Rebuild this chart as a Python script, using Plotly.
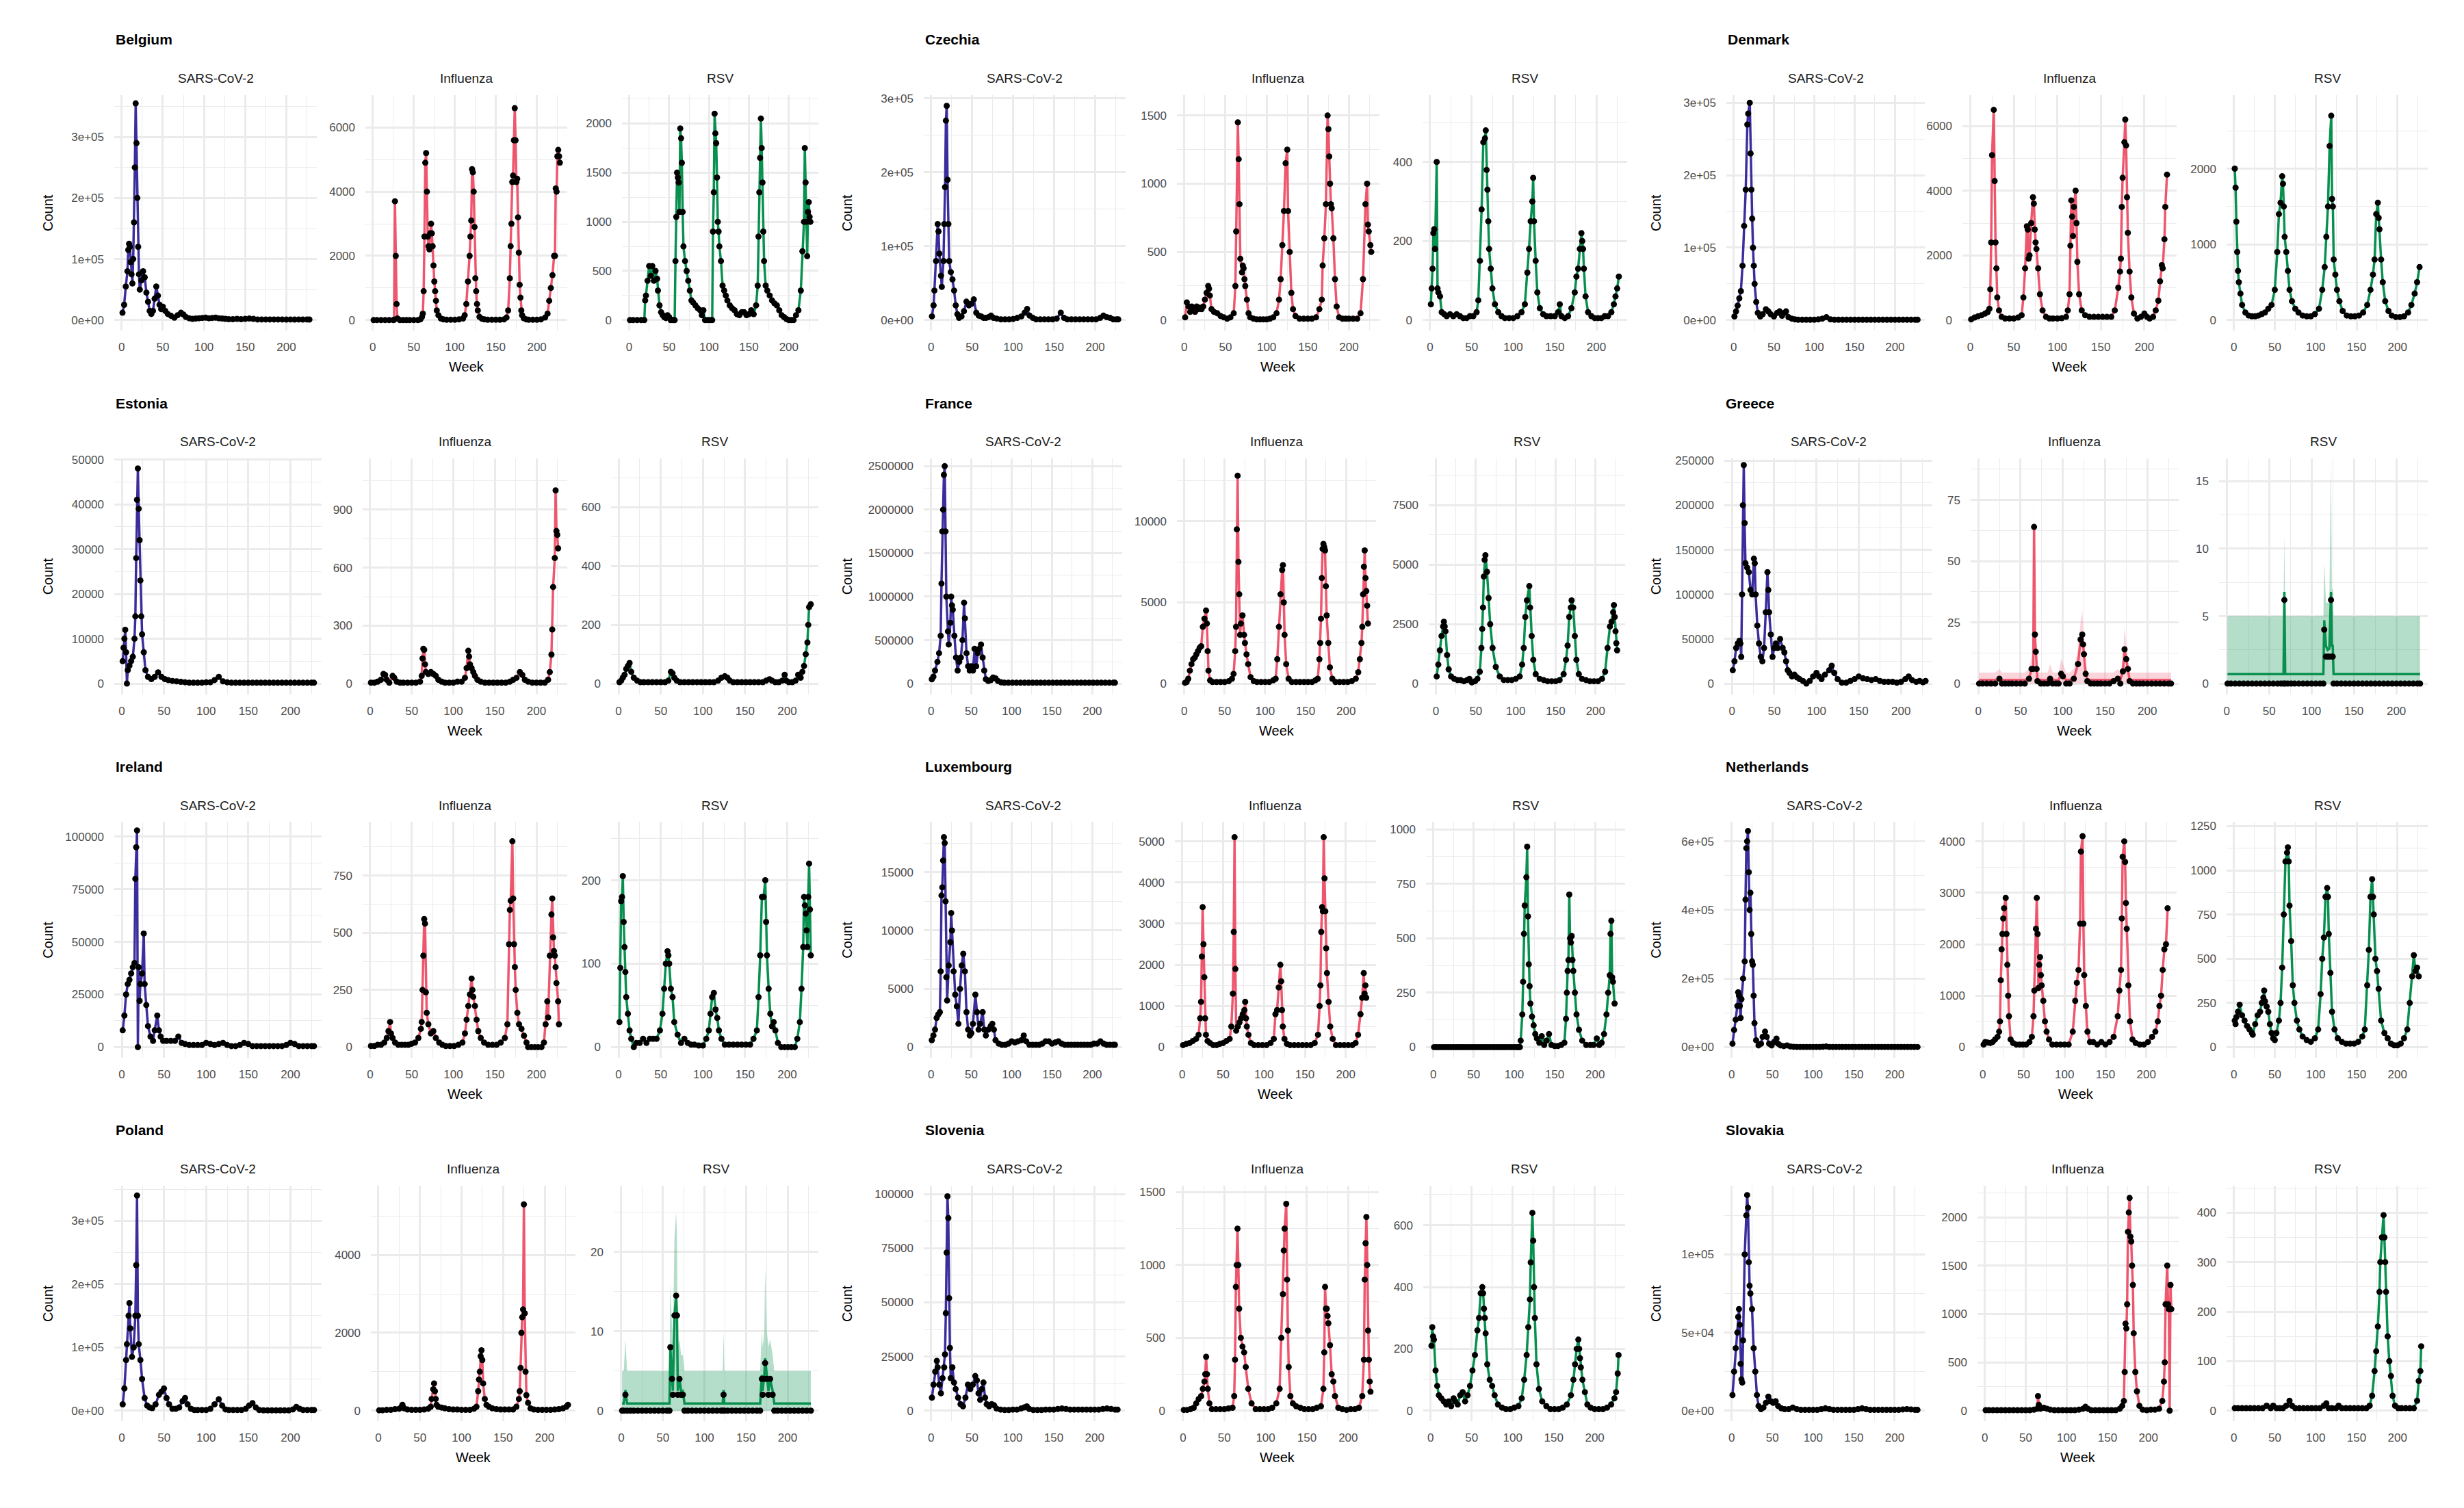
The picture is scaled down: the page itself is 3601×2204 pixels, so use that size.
import plotly.graph_objects as go

W_PX, H_PX = 3601, 2204

COUNTRIES = ["Belgium", "Czechia", "Denmark", "Estonia", "France", "Greece",
             "Ireland", "Luxembourg", "Netherlands", "Poland", "Slovenia", "Slovakia"]
PATHOGENS = ["SARS-CoV-2", "Influenza", "RSV"]
X_TICKS = [0, 50, 100, 150, 200]
X_MINOR = [25, 75, 125, 175, 225]

# ---------------- observed weekly counts: (week, count) ----------------
BE_SARS = [(1,12000),(3,25000),(5,55000),(7,80000),(8,115000),(9,125000),(10,120000),(11,95000),(12,75000),(13,60000),(14,100000),(15,160000),(16,250000),(17,355000),(18,290000),(19,200000),(20,120000),(21,75000),(22,50000),(24,65000),(26,80000),(28,70000),(30,45000),(32,30000),(34,15000),(36,10000),(38,15000),(40,35000),(42,55000),(44,40000),(46,25000),(48,18000),(50,22000),(53,15000),(56,10000),(60,7000),(64,4000),(68,8000),(72,12000),(75,9000),(78,5000),(82,3000),(86,2000),(90,2500),(94,3000),(98,3500),(102,4000),(106,3000),(110,3500),(114,4000),(118,3000),(122,2500),(126,2000),(130,1500),(135,1500),(140,2000),(145,1500),(150,2000),(155,2500),(160,2000),(165,1000),(170,1000),(175,1000),(180,1000),(185,1000),(190,1000),(195,1000),(200,800),(205,1000),(210,800),(215,1000),(220,800),(225,1000),(228,900)]
BE_FLU = [(1,0),(5,0),(10,0),(15,0),(20,0),(25,0),(26,10),(27,3700),(28,2000),(29,500),(30,50),(33,0),(37,0),(41,0),(45,0),(50,0),(55,0),(58,20),(60,100),(61,200),(62,900),(63,2600),(64,4900),(65,5200),(66,4000),(67,2600),(68,2300),(69,2200),(70,2700),(71,3000),(72,2700),(73,2300),(74,1700),(75,1200),(76,900),(77,600),(78,300),(80,150),(83,50),(86,20),(90,10),(95,10),(100,10),(105,20),(110,50),(112,150),(114,500),(116,1200),(118,2000),(119,2600),(120,3100),(121,4700),(122,4600),(123,4000),(124,2900),(125,1300),(126,900),(127,500),(128,300),(130,100),(133,40),(136,20),(140,10),(145,10),(150,10),(155,10),(160,20),(163,80),(165,300),(167,1300),(168,2300),(169,3000),(170,4300),(171,4500),(172,5600),(173,6600),(174,5600),(175,4300),(176,4400),(177,3200),(178,2100),(179,1100),(180,700),(181,300),(182,150),(184,60),(187,20),(190,10),(195,10),(200,10),(205,20),(210,80),(213,200),(215,600),(217,1000),(219,1400),(221,2000),(222,2000),(223,4100),(224,4000),(225,5100),(226,5300),(227,5100),(228,4900)]
BE_RSV = [(1,0),(5,0),(10,0),(15,0),(19,0),(20,200),(21,250),(23,400),(25,550),(27,450),(29,550),(31,400),(33,500),(35,420),(36,300),(38,150),(40,80),(42,50),(44,30),(46,20),(48,50),(50,30),(52,0),(55,0),(57,0),(58,600),(59,1050),(60,1500),(61,1450),(62,1400),(63,1100),(64,1950),(65,1850),(66,1600),(67,1100),(68,750),(70,600),(72,500),(74,400),(76,300),(78,200),(80,180),(83,150),(86,120),(89,100),(91,50),(93,100),(95,0),(98,0),(101,0),(104,0),(105,900),(106,1300),(107,2100),(108,1900),(109,1800),(110,1450),(111,1000),(112,900),(113,750),(115,600),(117,350),(119,300),(121,250),(123,200),(126,150),(129,120),(132,100),(135,60),(138,50),(141,80),(144,80),(147,50),(150,60),(153,100),(156,60),(159,150),(161,350),(162,850),(163,1300),(164,1650),(165,2050),(166,1750),(167,1400),(168,900),(169,600),(171,350),(173,300),(176,250),(179,200),(182,170),(185,150),(188,100),(191,50),(194,30),(197,10),(200,0),(203,0),(206,0),(209,50),(212,100),(215,300),(217,700),(219,1000),(220,1750),(221,1400),(222,1000),(223,650),(224,1100),(225,1200),(226,1050),(227,1000)]

CZ_SARS = [(1,5000),(3,20000),(4,40000),(6,80000),(8,130000),(9,120000),(10,90000),(12,60000),(13,45000),(15,80000),(16,130000),(17,180000),(18,270000),(19,290000),(20,190000),(21,130000),(22,80000),(24,65000),(26,55000),(28,40000),(30,20000),(32,8000),(34,3000),(37,5000),(40,12000),(43,25000),(46,20000),(49,22000),(52,28000),(55,10000),(58,6000),(61,5000),(64,3000),(67,3000),(70,4000),(73,6000),(76,3000),(80,2000),(85,1000),(90,1000),(95,1000),(100,1500),(105,3000),(110,5000),(114,10000),(117,15000),(120,6000),(124,3000),(128,1000),(133,1000),(138,1000),(143,1000),(148,1000),(153,2000),(158,10000),(162,3000),(166,1000),(171,1000),(176,1000),(181,1000),(186,1000),(191,1000),(196,1000),(201,1000),(206,3000),(210,6000),(214,4000),(218,3000),(222,1000),(226,1000),(228,1000)]
CZ_FLU = [(1,20),(3,130),(5,100),(7,60),(9,100),(11,70),(13,60),(15,100),(17,80),(19,90),(21,80),(23,100),(25,150),(27,200),(29,250),(30,230),(31,180),(33,80),(36,60),(40,50),(44,30),(48,20),(52,10),(56,20),(60,50),(62,250),(63,650),(65,1450),(66,1180),(67,850),(68,450),(70,350),(71,400),(72,380),(73,300),(74,250),(76,150),(78,50),(80,20),(84,10),(88,5),(92,5),(96,5),(100,5),(104,10),(108,20),(112,50),(115,150),(117,300),(119,550),(121,800),(123,1150),(125,1250),(126,800),(128,500),(130,200),(132,80),(135,30),(140,10),(145,10),(150,10),(155,10),(160,20),(164,80),(167,150),(168,400),(170,600),(172,850),(174,1500),(175,1400),(176,1200),(177,1000),(178,850),(179,820),(181,600),(183,300),(185,100),(188,20),(192,10),(196,10),(200,10),(205,10),(210,10),(214,50),(217,300),(220,850),(222,1000),(223,700),(224,650),(226,550),(227,500)]
CZ_RSV = [(1,40),(2,80),(3,130),(4,220),(5,230),(6,180),(8,400),(9,80),(10,70),(12,60),(14,20),(17,15),(20,10),(24,15),(28,10),(32,15),(36,10),(40,5),(44,5),(48,10),(52,10),(56,20),(58,50),(60,150),(62,280),(64,450),(66,460),(67,480),(68,380),(69,330),(70,250),(71,180),(73,130),(75,80),(78,40),(82,20),(86,10),(90,5),(95,5),(100,5),(105,10),(110,20),(114,40),(117,120),(119,180),(121,250),(123,300),(124,360),(125,250),(127,150),(129,70),(132,30),(136,15),(140,10),(145,10),(150,10),(154,20),(156,40),(158,10),(162,5),(166,10),(170,30),(174,70),(176,110),(178,130),(180,180),(182,220),(183,200),(184,180),(185,130),(187,60),(190,20),(194,10),(198,5),(202,5),(206,5),(210,10),(214,10),(218,20),(221,40),(223,60),(225,80),(227,110)]

DK_SARS = [(1,5000),(3,12000),(5,20000),(7,30000),(9,40000),(11,75000),(13,130000),(15,180000),(17,270000),(18,285000),(20,300000),(21,230000),(22,180000),(23,140000),(24,100000),(25,75000),(26,50000),(28,25000),(30,10000),(33,5000),(36,8000),(40,15000),(43,12000),(46,8000),(50,5000),(54,10000),(57,12000),(60,6000),(63,10000),(65,12000),(68,4000),(72,2000),(76,1000),(80,500),(85,500),(90,500),(95,500),(100,500),(105,1000),(110,2000),(115,4000),(120,1000),(125,500),(130,500),(135,500),(140,500),(145,500),(150,500),(155,500),(160,500),(165,500),(170,500),(175,500),(180,500),(185,500),(190,500),(195,500),(200,500),(205,500),(210,500),(215,500),(220,500),(225,500),(228,500)]
DK_FLU = [(1,20),(5,80),(9,120),(13,150),(17,200),(20,250),(22,350),(23,950),(24,2400),(25,5100),(27,6500),(28,4300),(29,2400),(30,1600),(31,700),(33,300),(36,100),(40,50),(45,50),(50,50),(55,80),(59,150),(61,700),(63,1600),(65,2900),(66,2800),(67,1900),(68,2000),(70,3000),(72,3800),(73,3600),(74,2800),(75,2400),(76,2200),(78,1600),(80,800),(83,300),(87,100),(91,50),(95,50),(100,50),(105,60),(110,100),(112,300),(114,800),(115,2300),(116,3700),(117,3200),(118,2600),(119,3500),(121,4000),(122,3000),(123,1800),(125,800),(128,300),(132,150),(137,100),(142,100),(147,100),(152,100),(157,100),(162,100),(166,300),(170,1000),(172,1500),(173,1900),(174,3500),(175,4400),(177,5500),(178,6200),(179,5400),(180,3800),(181,2700),(183,1500),(185,700),(188,200),(192,50),(196,100),(200,200),(203,100),(206,50),(210,100),(213,300),(216,600),(218,1200),(220,1700),(221,1600),(223,2500),(224,3500),(226,4500)]
DK_RSV = [(1,2000),(2,1750),(3,1300),(4,900),(5,650),(6,500),(8,350),(10,200),(14,100),(18,60),(22,50),(26,50),(30,60),(34,80),(38,100),(42,150),(46,200),(50,400),(53,900),(55,1400),(57,1550),(59,1900),(60,1800),(61,1500),(62,1100),(64,900),(66,650),(68,400),(71,250),(75,150),(79,100),(84,60),(89,50),(94,50),(99,80),(104,150),(108,400),(111,700),(113,1100),(115,1500),(117,2300),(119,2700),(120,1600),(121,1500),(122,800),(124,600),(126,400),(129,250),(133,120),(138,60),(143,50),(148,50),(153,60),(158,100),(163,200),(167,400),(170,600),(172,800),(174,1400),(176,1550),(177,1350),(178,1200),(180,800),(182,500),(185,250),(189,120),(193,60),(198,40),(203,40),(208,50),(213,100),(217,200),(221,350),(224,500),(227,700)]

EE_SARS = [(1,5000),(2,8000),(3,10000),(4,12000),(5,7000),(6,0),(7,3000),(9,4000),(11,5000),(13,6000),(15,10000),(16,15000),(17,28000),(18,41000),(19,48000),(20,39000),(21,32000),(22,23000),(23,15000),(24,11000),(26,7000),(28,3000),(31,1500),(35,1000),(39,1500),(43,2500),(47,1500),(51,1000),(55,800),(60,600),(65,500),(70,400),(75,300),(80,200),(85,200),(90,200),(95,200),(100,300),(105,300),(110,800),(115,1500),(120,500),(125,300),(130,200),(135,200),(140,200),(145,200),(150,200),(155,200),(160,200),(165,200),(170,200),(175,200),(180,200),(185,200),(190,200),(195,200),(200,200),(205,200),(210,200),(215,200),(220,200),(225,200),(228,200)]
EE_FLU = [(1,5),(5,5),(9,10),(13,20),(16,50),(18,45),(20,20),(23,5),(27,40),(29,30),(32,10),(36,5),(40,5),(45,5),(50,5),(55,5),(60,10),(62,40),(63,130),(64,180),(65,175),(66,100),(67,60),(70,50),(73,60),(76,50),(79,40),(82,20),(86,10),(90,5),(95,5),(100,5),(105,10),(110,10),(114,30),(116,80),(118,170),(119,140),(120,100),(122,80),(124,60),(126,40),(129,20),(133,10),(138,5),(143,5),(148,5),(153,5),(158,5),(163,5),(168,10),(172,20),(176,30),(180,60),(183,45),(186,20),(190,10),(195,5),(200,5),(205,5),(210,5),(214,20),(216,60),(218,150),(219,280),(220,500),(222,650),(223,1000),(224,790),(225,770),(226,700)]
EE_RSV = [(1,5),(3,10),(5,20),(7,30),(9,50),(11,60),(13,70),(15,40),(18,20),(22,10),(26,5),(30,5),(35,5),(40,5),(45,5),(50,5),(55,5),(59,10),(62,40),(64,35),(66,20),(69,10),(73,5),(78,5),(83,5),(88,5),(93,5),(98,5),(103,5),(108,5),(113,5),(118,10),(122,20),(126,25),(129,20),(132,10),(136,5),(141,5),(146,5),(151,5),(156,5),(161,5),(166,5),(171,5),(175,10),(179,15),(182,10),(186,5),(190,5),(194,10),(197,30),(199,10),(202,5),(206,5),(210,10),(213,30),(216,20),(218,40),(220,60),(222,100),(224,140),(225,200),(226,260),(228,270)]

FR_SARS = [(1,50000),(3,80000),(5,150000),(8,250000),(10,350000),(12,550000),(13,1150000),(14,1750000),(15,2000000),(16,2400000),(17,2500000),(18,1750000),(19,1000000),(21,600000),(22,450000),(24,700000),(25,1000000),(26,900000),(27,850000),(29,550000),(31,300000),(33,150000),(35,250000),(37,300000),(39,500000),(41,930000),(42,750000),(44,350000),(46,200000),(48,150000),(50,200000),(52,150000),(54,400000),(56,200000),(58,350000),(60,400000),(62,450000),(64,300000),(66,150000),(68,50000),(71,30000),(74,40000),(77,70000),(80,60000),(83,30000),(87,15000),(91,10000),(96,10000),(101,10000),(106,10000),(111,10000),(116,10000),(121,10000),(126,10000),(131,10000),(136,10000),(141,10000),(146,10000),(151,10000),(156,10000),(161,10000),(166,10000),(171,10000),(176,10000),(181,10000),(186,10000),(191,10000),(196,10000),(201,10000),(206,10000),(211,10000),(216,10000),(221,10000),(226,10000),(228,10000)]
FR_FLU = [(1,50),(3,100),(5,300),(7,800),(9,1200),(11,1500),(13,1600),(15,1800),(17,2000),(19,2200),(21,2300),(23,3500),(25,4000),(27,4500),(28,3700),(29,2000),(30,800),(32,200),(35,100),(40,100),(45,100),(50,100),(55,150),(59,300),(61,600),(63,2000),(64,3500),(65,9500),(66,12800),(67,7500),(68,5500),(69,3000),(70,3700),(72,4200),(74,3000),(75,2500),(77,1800),(79,1200),(82,400),(86,150),(90,100),(95,100),(100,100),(105,100),(110,200),(113,300),(115,1500),(117,3500),(119,5500),(121,7000),(122,7300),(123,5000),(124,3000),(126,1200),(129,300),(133,100),(138,100),(143,100),(148,100),(153,100),(158,100),(162,200),(165,300),(167,1500),(168,2500),(169,4000),(170,6500),(171,8300),(172,8600),(173,8400),(174,8200),(175,6000),(176,4200),(178,2500),(180,1000),(183,300),(187,100),(192,100),(197,100),(202,100),(207,150),(212,300),(215,700),(217,1500),(219,2500),(220,3500),(221,5500),(222,7200),(223,8200),(224,6500),(225,5700),(226,4800),(227,3700)]
FR_RSV = [(1,300),(3,800),(5,1400),(7,2000),(9,2400),(10,2600),(11,2400),(12,2200),(14,1200),(16,600),(19,300),(23,200),(27,150),(31,150),(35,100),(39,150),(42,200),(45,50),(49,100),(52,200),(55,500),(57,1500),(58,2300),(59,3200),(60,4500),(61,5200),(62,5400),(64,4700),(66,3600),(68,2500),(71,1500),(75,700),(80,300),(85,150),(90,150),(95,150),(100,200),(105,300),(108,800),(110,1500),(112,2800),(114,3500),(117,4100),(118,3200),(120,2000),(122,1000),(125,400),(130,200),(135,150),(140,100),(145,100),(150,100),(155,150),(160,400),(163,1000),(165,1600),(167,2800),(169,3200),(170,3500),(172,3200),(174,2000),(176,1000),(179,400),(183,200),(188,150),(193,100),(198,100),(203,100),(208,200),(212,500),(215,1500),(218,2400),(220,2600),(222,3000),(223,3300),(224,2800),(225,2200),(226,1700),(227,1400)]

GR_SARS = [(1,15000),(3,25000),(5,40000),(7,45000),(9,48000),(10,45000),(11,30000),(12,100000),(13,200000),(14,245000),(15,180000),(16,135000),(18,130000),(20,125000),(22,105000),(24,100000),(26,140000),(27,135000),(28,100000),(30,65000),(32,45000),(34,30000),(36,25000),(38,40000),(40,80000),(42,125000),(43,105000),(44,80000),(46,55000),(48,30000),(50,40000),(52,45000),(54,40000),(57,50000),(60,40000),(62,35000),(64,25000),(66,15000),(68,12000),(71,8000),(74,10000),(77,7000),(80,5000),(84,3000),(88,0),(92,3000),(96,8000),(100,12000),(103,8000),(106,5000),(110,10000),(115,15000),(118,20000),(121,12000),(125,5000),(130,1000),(135,1000),(140,3000),(145,5000),(150,8000),(155,6000),(160,5000),(165,4000),(170,5000),(175,3000),(180,2000),(185,2000),(190,2000),(195,1000),(200,2000),(205,5000),(209,8000),(213,4000),(218,2000),(222,3000),(226,1500),(229,3000)]
# model panels: (week, observed, fitted mean, upper band)
GR_FLU = [(1,0,1.5,4.5),(5,0,1.5,4.5),(10,0,1.5,4.5),(15,0,1.5,4.5),(20,0,1.5,4.5),(25,2,2,6),(28,0,1.5,4.5),(32,0,1.5,4.5),(36,0,1.5,4.5),(40,0,1.5,4.5),(45,0,1.5,4.5),(50,0,1.5,4.5),(55,0,1.5,4.5),(60,2,2,6),(63,6,6,11),(65,6,6,11),(66,64,64,75),(67,20,20,27),(68,13,13,19),(69,6,6,11),(70,1,1.5,4.5),(74,0,1.5,4.5),(78,0,1.5,4.5),(82,0,1.5,4.5),(85,2,2,8),(88,0,1.5,4.5),(92,0,1.5,4.5),(95,0,1.5,4.5),(98,4,4,10),(100,3,3,8),(104,0,1.5,4.5),(108,0,1.5,4.5),(113,2,2,6),(118,8,8,14),(121,18,18,25),(123,20,20,30),(124,16,16,22),(125,12,12,18),(127,4,4,9),(129,1,1.5,4.5),(133,0,1.5,4.5),(137,0,1.5,4.5),(141,0,1.5,4.5),(145,0,1.5,4.5),(150,0,1.5,4.5),(155,0,1.5,4.5),(160,1,1.5,4.5),(165,2,2,6),(168,0,1.5,4.5),(171,5,5,10),(173,14,14,23),(175,10,10,16),(177,6,6,11),(179,1,1.5,4.5),(183,0,1.5,4.5),(187,0,1.5,4.5),(191,0,1.5,4.5),(195,0,1.5,4.5),(200,0,1.5,4.5),(205,0,1.5,4.5),(210,0,1.5,4.5),(215,0,1.5,4.5),(220,0,1.5,4.5),(225,0,1.5,4.5),(228,0,1.5,4.5)]
GR_RSV = [(1,0,0.7,5),(5,0,0.7,5),(10,0,0.7,5),(15,0,0.7,5),(20,0,0.7,5),(25,0,0.7,5),(30,0,0.7,5),(35,0,0.7,5),(40,0,0.7,5),(45,0,0.7,5),(50,0,0.7,5),(55,0,0.7,5),(60,0,0.7,5),(64,0,0.7,5),(67,0,0.7,5),(68,6.2,6.8,11),(69,0,0.7,5),(72,0,0.7,5),(76,0,0.7,5),(80,0,0.7,5),(85,0,0.7,5),(90,0,0.7,5),(95,0,0.7,5),(100,0,0.7,5),(105,0,0.7,5),(110,0,0.7,5),(114,0,0.7,5),(115,4,4.7,9),(117,2,2.8,6),(119,2,2.5,6),(121,2,2.6,6),(123,6.2,6.8,16.5),(124,2,2.8,7),(125,2,2.8,7),(126,0,0.7,5),(130,0,0.7,5),(135,0,0.7,5),(140,0,0.7,5),(145,0,0.7,5),(150,0,0.7,5),(155,0,0.7,5),(160,0,0.7,5),(165,0,0.7,5),(170,0,0.7,5),(175,0,0.7,5),(180,0,0.7,5),(185,0,0.7,5),(190,0,0.7,5),(195,0,0.7,5),(200,0,0.7,5),(205,0,0.7,5),(210,0,0.7,5),(215,0,0.7,5),(220,0,0.7,5),(225,0,0.7,5),(228,0,0.7,5)]

IE_SARS = [(1,8000),(3,15000),(5,25000),(7,30000),(9,32000),(11,35000),(13,38000),(15,40000),(16,80000),(17,95000),(18,103000),(19,0),(20,38000),(21,22000),(22,30000),(24,35000),(26,54000),(27,30000),(29,20000),(31,10000),(34,5000),(37,3000),(39,8000),(42,15000),(44,8000),(46,5000),(49,3000),(53,3000),(58,3000),(63,3000),(67,5000),(71,2000),(75,1500),(80,1000),(85,1000),(90,1000),(95,1000),(100,2000),(105,1500),(110,1000),(115,1500),(120,2000),(125,1000),(130,500),(135,500),(140,1000),(145,2000),(150,1500),(155,500),(160,500),(165,500),(170,500),(175,500),(180,500),(185,500),(190,500),(195,1000),(200,2000),(205,1500),(210,500),(215,500),(220,500),(225,500),(228,500)]
IE_FLU = [(1,5),(5,5),(9,10),(13,10),(17,20),(20,40),(22,70),(24,110),(25,60),(27,40),(30,20),(34,10),(38,10),(42,10),(46,10),(50,15),(54,20),(58,40),(61,80),(62,110),(63,250),(64,400),(65,560),(66,540),(67,240),(68,150),(70,100),(73,60),(76,70),(79,40),(83,20),(87,10),(91,5),(96,5),(101,5),(106,10),(111,20),(114,60),(116,120),(118,180),(120,230),(122,300),(123,250),(124,220),(126,180),(128,120),(130,70),(133,40),(137,20),(142,10),(147,10),(152,10),(157,20),(162,40),(165,100),(167,450),(168,600),(169,640),(171,900),(172,650),(173,450),(174,350),(175,250),(177,150),(179,100),(182,80),(185,50),(188,20),(190,0),(194,0),(198,0),(202,0),(206,0),(209,20),(211,100),(213,200),(214,130),(216,400),(218,580),(219,650),(220,480),(221,420),(222,400),(223,350),(224,280),(226,200),(227,100)]
IE_RSV = [(1,30),(2,95),(3,175),(4,180),(5,205),(6,150),(7,120),(8,90),(9,60),(11,40),(13,20),(15,10),(18,0),(21,5),(25,5),(29,10),(33,5),(37,10),(41,10),(45,10),(49,20),(52,40),(54,70),(56,100),(58,115),(59,110),(60,100),(62,70),(64,60),(66,30),(70,15),(74,5),(78,10),(82,5),(86,3),(90,3),(95,2),(100,2),(104,10),(107,20),(109,40),(111,60),(113,65),(115,45),(117,35),(119,20),(122,10),(126,3),(131,3),(136,3),(141,3),(146,3),(151,3),(156,3),(160,10),(164,20),(166,60),(168,110),(170,180),(172,180),(174,200),(175,150),(176,110),(178,70),(180,40),(182,25),(184,30),(186,20),(189,5),(193,0),(197,0),(201,0),(205,0),(209,0),(212,10),(215,30),(217,70),(219,120),(220,180),(221,170),(222,160),(223,140),(224,120),(225,180),(226,220),(227,165),(228,110)]

LU_SARS = [(1,600),(3,1000),(5,1500),(7,2500),(9,2800),(11,3000),(12,6500),(13,13000),(14,13700),(15,16000),(16,18000),(17,17500),(18,12500),(19,6000),(20,4000),(22,7000),(24,9000),(25,11500),(26,10000),(28,6500),(30,4500),(32,3500),(34,2000),(36,5000),(38,7000),(40,8000),(42,6500),(44,3000),(46,1500),(48,1000),(50,1200),(52,2000),(55,4500),(57,3000),(59,1500),(61,2000),(64,3000),(66,1500),(68,1000),(71,1500),(74,1800),(76,2000),(78,1500),(80,600),(84,300),(88,200),(92,200),(96,300),(100,500),(104,400),(108,500),(112,600),(115,1000),(118,500),(122,200),(126,200),(130,200),(134,200),(138,300),(142,500),(146,500),(150,300),(154,400),(158,500),(162,300),(166,200),(170,200),(174,200),(178,200),(182,200),(186,200),(190,200),(194,200),(198,200),(202,300),(206,300),(210,500),(214,300),(218,200),(222,200),(226,200),(228,200)]
LU_FLU = [(1,50),(5,80),(9,100),(13,150),(17,200),(20,300),(22,700),(23,1100),(24,2200),(25,3400),(26,2500),(27,1700),(28,700),(29,300),(31,150),(34,100),(38,50),(42,50),(46,80),(50,100),(54,150),(58,200),(60,500),(62,1300),(63,2800),(64,5100),(65,1900),(66,400),(68,500),(70,600),(72,700),(74,800),(76,900),(77,1100),(78,700),(79,500),(81,300),(84,100),(88,50),(93,50),(98,50),(103,50),(108,100),(112,200),(114,800),(116,900),(118,1450),(120,2000),(121,1600),(122,900),(123,500),(125,200),(128,80),(132,50),(137,50),(142,50),(147,50),(152,50),(157,50),(162,100),(166,300),(168,1000),(169,1500),(170,2800),(171,3400),(172,3300),(173,5100),(174,4100),(175,3300),(176,2400),(177,1800),(179,1100),(181,500),(184,200),(188,50),(193,50),(198,50),(203,50),(208,50),(212,100),(215,300),(218,800),(220,1200),(222,1800),(223,1300),(224,1500),(225,1200)]
LU_RSV = [(1,0),(4,0),(7,0),(10,0),(13,0),(16,0),(19,0),(22,0),(25,0),(28,0),(31,0),(34,0),(37,0),(40,0),(43,0),(46,0),(49,0),(52,0),(55,0),(58,0),(61,0),(64,0),(67,0),(70,0),(73,0),(76,0),(79,0),(82,0),(85,0),(88,0),(91,0),(94,0),(97,0),(100,0),(103,0),(105,0),(107,0),(108,30),(110,150),(111,300),(112,520),(113,650),(115,780),(116,920),(117,600),(118,380),(119,280),(120,200),(122,140),(124,100),(126,60),(128,40),(131,20),(134,50),(137,10),(140,30),(143,60),(146,10),(150,5),(154,5),(158,10),(162,20),(164,130),(165,250),(166,350),(167,400),(168,700),(169,500),(170,480),(171,510),(172,400),(173,350),(175,250),(177,150),(180,80),(184,30),(189,10),(194,10),(198,10),(202,40),(205,10),(208,20),(211,60),(214,150),(216,250),(218,330),(219,520),(220,580),(221,320),(222,300),(224,200)]

NL_SARS = [(1,10000),(3,50000),(5,80000),(7,120000),(8,160000),(9,150000),(10,120000),(11,85000),(12,140000),(14,200000),(16,250000),(17,430000),(18,580000),(19,600000),(20,630000),(21,510000),(22,400000),(23,450000),(24,330000),(25,250000),(26,240000),(27,150000),(28,70000),(30,20000),(33,5000),(36,10000),(38,30000),(41,45000),(43,30000),(46,10000),(49,5000),(52,15000),(55,25000),(57,10000),(60,5000),(64,3000),(68,5000),(72,2000),(76,1000),(80,500),(84,500),(88,500),(92,500),(96,500),(100,500),(104,500),(108,500),(112,1000),(116,2000),(120,500),(124,500),(128,500),(132,500),(136,500),(140,500),(144,500),(148,500),(152,500),(156,500),(160,500),(164,500),(168,500),(172,500),(176,500),(180,500),(184,500),(188,500),(192,500),(196,500),(200,500),(204,500),(208,500),(212,500),(216,500),(220,500),(224,500),(228,500)]
NL_FLU = [(1,50),(3,100),(6,90),(9,80),(12,100),(15,150),(18,200),(20,300),(21,500),(22,1300),(23,1900),(24,2200),(25,2500),(26,2700),(28,2900),(29,2200),(30,1600),(31,1000),(32,600),(34,150),(37,80),(41,50),(45,50),(49,50),(53,50),(57,100),(60,200),(62,600),(63,1100),(65,2300),(66,2900),(67,2200),(68,1150),(69,1600),(70,1750),(71,1400),(72,1200),(74,900),(76,500),(78,300),(81,150),(85,50),(90,50),(95,50),(100,50),(105,50),(110,300),(113,900),(115,1250),(117,1500),(119,2400),(120,3800),(122,4100),(123,2400),(124,1400),(126,800),(128,300),(131,100),(135,100),(140,50),(145,100),(150,50),(155,100),(160,200),(165,600),(167,1100),(169,1500),(170,2500),(171,3700),(173,4000),(174,3600),(175,2800),(176,2300),(178,1200),(180,500),(183,150),(187,80),(192,50),(197,50),(202,100),(207,200),(211,300),(214,500),(216,800),(218,1000),(220,1500),(222,1900),(224,2000),(226,2700)]
NL_RSV = [(1,150),(2,130),(3,170),(5,200),(7,240),(10,180),(13,150),(16,120),(19,100),(22,80),(23,70),(26,130),(29,180),(32,200),(34,250),(36,280),(37,320),(38,260),(40,230),(42,200),(44,130),(46,80),(48,50),(50,40),(52,80),(55,150),(57,250),(59,450),(61,750),(63,1050),(65,1100),(66,1130),(67,1050),(68,800),(70,600),(72,350),(74,250),(77,150),(80,100),(84,60),(89,40),(94,30),(99,50),(103,100),(106,300),(108,500),(110,620),(112,850),(114,900),(115,850),(116,640),(118,420),(120,200),(123,100),(127,50),(132,30),(137,20),(142,20),(147,20),(152,30),(157,60),(160,100),(163,350),(165,550),(167,850),(169,950),(170,850),(171,750),(173,500),(175,430),(177,330),(180,150),(184,80),(188,50),(192,20),(196,10),(200,10),(204,20),(208,50),(212,100),(215,250),(218,400),(220,520),(222,430),(224,450),(226,400)]

PL_SARS = [(1,10000),(3,35000),(5,80000),(6,105000),(8,150000),(9,170000),(10,130000),(12,85000),(14,100000),(16,150000),(17,230000),(18,340000),(19,150000),(20,105000),(22,80000),(24,50000),(27,20000),(30,8000),(33,5000),(36,4000),(40,10000),(44,25000),(47,30000),(50,35000),(53,20000),(56,10000),(60,3000),(64,3000),(68,5000),(72,15000),(75,20000),(78,10000),(82,3000),(86,1000),(90,1000),(95,1000),(100,1000),(105,3000),(110,10000),(115,18000),(119,8000),(123,2000),(127,1000),(132,1000),(137,1000),(142,1000),(147,3000),(151,8000),(155,12000),(159,5000),(163,1000),(168,500),(173,500),(178,500),(183,500),(188,500),(193,500),(198,500),(203,2000),(207,6000),(211,3000),(215,1000),(220,1000),(225,1000),(228,1000)]
PL_FLU = [(1,10),(5,10),(10,20),(15,20),(20,40),(25,50),(28,100),(29,150),(31,60),(35,30),(40,20),(45,20),(50,20),(55,30),(60,50),(63,100),(64,300),(66,550),(67,700),(68,500),(69,300),(70,150),(72,100),(76,80),(80,60),(85,40),(90,30),(95,30),(100,20),(105,20),(110,20),(115,50),(118,100),(120,500),(121,800),(122,1000),(123,1400),(124,1550),(125,1300),(126,700),(128,300),(130,150),(133,100),(137,60),(142,40),(147,30),(152,30),(157,30),(162,30),(166,100),(169,300),(170,500),(171,1100),(172,2000),(173,2400),(174,2600),(175,5300),(176,2500),(177,1000),(178,400),(180,200),(183,60),(187,30),(192,20),(197,20),(202,20),(207,20),(212,30),(217,40),(222,60),(226,100),(228,150)]
PL_RSV = [(1,0,0.9,5),(3,0,0.9,5),(5,2,2.6,9),(7,0,0.9,5),(11,0,0.9,5),(15,0,0.9,5),(20,0,0.9,5),(25,0,0.9,5),(30,0,0.9,5),(35,0,0.9,5),(40,0,0.9,5),(45,0,0.9,5),(50,0,0.9,5),(55,0,0.9,5),(58,0,0.9,5),(59,8,8,16),(61,4,4.5,10),(62,2,2.5,8),(64,12,12,22),(66,14.5,14.5,25),(67,12,12,22),(68,2,2.5,8),(70,4,4,9),(72,2,2.5,7),(74,2,2.5,7),(76,0,0.9,5),(80,0,0.9,5),(85,0,0.9,5),(90,0,0.9,5),(95,0,0.9,5),(100,0,0.9,5),(105,0,0.9,5),(110,0,0.9,5),(115,0,0.9,5),(120,0,0.9,5),(122,0,0.9,5),(123,2,2.6,10),(124,0,0.9,5),(128,0,0.9,5),(133,0,0.9,5),(138,0,0.9,5),(143,0,0.9,5),(148,0,0.9,5),(153,0,0.9,5),(158,0,0.9,5),(163,0,0.9,5),(167,0,0.9,5),(169,4,4.5,10),(170,2,2.5,8),(172,4,4.5,10),(173,6,6.6,18),(175,4,4.5,10),(177,2,2.5,8),(179,4,4,9),(182,2,2.5,7),(184,0,0.9,5),(188,0,0.9,5),(193,0,0.9,5),(198,0,0.9,5),(203,0,0.9,5),(208,0,0.9,5),(213,0,0.9,5),(218,0,0.9,5),(223,0,0.9,5),(228,0,0.9,5)]

SI_SARS = [(1,6000),(3,12000),(5,18000),(7,23000),(8,20000),(10,12000),(12,8000),(14,15000),(16,20000),(17,26000),(18,45000),(19,73000),(20,99000),(21,89000),(22,52000),(23,29000),(24,15000),(26,20000),(28,13000),(30,10000),(33,6000),(36,3000),(39,2000),(42,6000),(45,12000),(48,10000),(51,12000),(54,16000),(56,14000),(58,8000),(60,5000),(62,10000),(64,13000),(66,6000),(68,3000),(71,2000),(74,3000),(77,2500),(80,1000),(85,500),(90,300),(95,300),(100,500),(105,500),(110,1000),(114,1500),(117,2000),(120,800),(125,300),(130,300),(135,300),(140,500),(145,500),(150,500),(155,800),(160,1000),(165,800),(170,500),(175,500),(180,500),(185,500),(190,500),(195,500),(200,500),(205,500),(210,800),(215,1000),(220,800),(225,500),(228,500)]
SI_FLU = [(1,5),(5,5),(9,10),(13,20),(16,50),(19,80),(22,100),(24,150),(26,200),(27,250),(28,370),(29,250),(30,150),(32,50),(35,10),(40,10),(45,10),(50,10),(55,15),(60,20),(62,100),(63,350),(64,850),(65,1000),(66,1250),(67,1000),(68,700),(70,500),(72,440),(74,400),(76,300),(79,150),(83,50),(88,10),(93,10),(98,10),(103,10),(108,20),(113,50),(117,150),(119,500),(121,800),(122,1100),(123,1250),(125,1420),(126,900),(127,550),(128,300),(130,100),(133,50),(137,30),(142,20),(147,10),(152,10),(157,10),(162,20),(167,30),(170,150),(171,400),(172,850),(173,700),(174,700),(175,650),(176,600),(178,450),(180,250),(182,200),(184,100),(188,20),(193,10),(198,5),(203,10),(208,10),(213,20),(217,100),(219,350),(220,900),(221,1150),(222,1330),(223,1000),(224,550),(225,350),(226,200),(227,130)]
SI_RSV = [(1,210),(2,270),(3,240),(4,230),(6,130),(8,80),(10,50),(13,40),(16,30),(19,20),(22,30),(25,15),(28,40),(30,30),(33,20),(36,50),(39,60),(42,30),(45,50),(48,80),(51,130),(54,180),(57,260),(59,300),(61,380),(63,400),(64,380),(65,330),(66,300),(67,250),(69,150),(72,100),(75,80),(78,50),(82,20),(87,10),(92,5),(97,5),(102,10),(107,15),(111,40),(114,100),(117,180),(119,270),(121,360),(122,480),(124,640),(125,550),(126,400),(127,300),(129,150),(132,70),(136,30),(141,15),(146,5),(151,5),(156,5),(161,10),(166,20),(171,50),(174,100),(176,150),(178,200),(180,230),(181,200),(182,170),(183,140),(185,100),(188,60),(191,20),(195,10),(200,5),(205,5),(210,5),(215,10),(220,20),(224,40),(226,60),(228,120),(229,180)]

SK_SARS = [(1,10000),(3,25000),(5,40000),(7,50000),(8,60000),(9,65000),(10,55000),(11,30000),(12,20000),(13,18000),(14,45000),(16,100000),(18,125000),(19,138000),(20,130000),(21,95000),(22,80000),(23,75000),(25,65000),(27,40000),(29,25000),(31,10000),(33,3000),(36,1000),(39,2000),(42,5000),(45,9000),(48,6000),(51,5000),(54,6000),(57,3000),(61,1500),(65,1000),(70,1000),(75,2000),(80,1000),(85,500),(90,500),(95,500),(100,500),(105,500),(110,1000),(115,1500),(120,1000),(125,500),(130,500),(135,500),(140,500),(145,500),(150,500),(155,1000),(160,1500),(165,1000),(170,500),(175,500),(180,500),(185,500),(190,500),(195,500),(200,500),(205,500),(210,800),(215,1000),(220,800),(225,500),(228,500)]
SK_FLU = [(1,5),(5,5),(10,5),(15,5),(20,5),(25,5),(30,5),(35,5),(40,5),(45,5),(50,5),(55,5),(60,10),(64,20),(65,150),(66,60),(68,20),(72,30),(76,20),(80,10),(85,5),(90,5),(95,5),(100,5),(105,5),(110,5),(115,10),(120,20),(123,40),(126,20),(130,5),(135,5),(140,5),(145,5),(150,5),(155,5),(160,5),(165,20),(168,50),(170,100),(171,400),(172,900),(173,850),(174,1100),(175,1850),(176,2050),(177,2200),(178,1800),(179,1750),(180,1500),(181,1300),(182,800),(184,400),(186,200),(189,50),(193,10),(198,5),(203,10),(208,10),(213,20),(217,100),(219,300),(220,500),(221,1100),(223,1500),(224,1100),(225,1050),(226,0),(227,1300),(228,1050)]
SK_RSV = [(1,5),(5,5),(10,5),(15,5),(20,5),(25,5),(30,5),(35,5),(40,10),(45,5),(48,10),(52,5),(56,5),(60,5),(64,10),(68,20),(71,10),(75,5),(80,5),(85,5),(90,5),(95,5),(100,5),(105,5),(110,10),(113,15),(116,5),(120,5),(125,5),(128,10),(132,5),(137,5),(142,5),(147,5),(152,5),(157,5),(162,5),(166,10),(169,30),(172,80),(174,120),(176,170),(178,240),(179,300),(181,350),(183,395),(184,350),(185,300),(186,240),(188,150),(190,100),(192,70),(194,30),(197,10),(201,5),(205,5),(210,5),(215,5),(220,5),(224,20),(226,60),(228,80),(229,130)]

SERIES = [
    [BE_SARS, BE_FLU, BE_RSV], [CZ_SARS, CZ_FLU, CZ_RSV], [DK_SARS, DK_FLU, DK_RSV],
    [EE_SARS, EE_FLU, EE_RSV], [FR_SARS, FR_FLU, FR_RSV], [GR_SARS, GR_FLU, GR_RSV],
    [IE_SARS, IE_FLU, IE_RSV], [LU_SARS, LU_FLU, LU_RSV], [NL_SARS, NL_FLU, NL_RSV],
    [PL_SARS, PL_FLU, PL_RSV], [SI_SARS, SI_FLU, SI_RSV], [SK_SARS, SK_FLU, SK_RSV],
]

# y-axis upper limits and tick values
Y_TOP = [
    [369000, 7015, 2292], [305000, 1652, 570], [311000, 6966, 2976],
    [50255, 1166, 766], [2590000, 13873, 9471], [252564, 92, 16.7],
    [107065, 985, 270], [19314, 5472, 1034], [656667, 4378, 1274],
    [355952, 5787, 28.4], [104060, 1547, 729], [144212, 2330, 455],
]
Y_TICKS = [
    [[0,100000,200000,300000],[0,2000,4000,6000],[0,500,1000,1500,2000]],
    [[0,100000,200000,300000],[0,500,1000,1500],[0,200,400]],
    [[0,100000,200000,300000],[0,2000,4000,6000],[0,1000,2000]],
    [[0,10000,20000,30000,40000,50000],[0,300,600,900],[0,200,400,600]],
    [[0,500000,1000000,1500000,2000000,2500000],[0,5000,10000],[0,2500,5000,7500]],
    [[0,50000,100000,150000,200000,250000],[0,25,50,75],[0,5,10,15]],
    [[0,25000,50000,75000,100000],[0,250,500,750],[0,100,200]],
    [[0,5000,10000,15000],[0,1000,2000,3000,4000,5000],[0,250,500,750,1000]],
    [[0,200000,400000,600000],[0,1000,2000,3000,4000],[0,250,500,750,1000,1250]],
    [[0,100000,200000,300000],[0,2000,4000],[0,10,20]],
    [[0,25000,50000,75000,100000],[0,500,1000,1500],[0,200,400,600]],
    [[0,50000,100000],[0,500,1000,1500,2000],[0,100,200,300,400]],
]
SCI_LABELS = [True, True, True, False, False, False, False, False, True, True, False, True]

# ---------------- layout (pixels) ----------------
ROW_TOP = [132, 665, 1198, 1731]
PANEL_H = 346
COUNT_X = [70, 1238, 2420]
PANEL_X = [
    [(167,463),(534,829),(909,1196)], [(1350,1645),(1720,2016),(2079,2378)], [(2523,2813),(2868,3181),(3254,3548)],
    [(167,470),(530,829),(893,1196)], [(1350,1640),(1720,2011),(2088,2375)], [(2520,2824),(2880,3184),(3243,3548)],
    [(167,470),(530,829),(893,1196)], [(1350,1640),(1717,2011),(2084,2375)], [(2520,2813),(2887,3181),(3254,3548)],
    [(167,470),(542,841),(897,1196)], [(1350,1644),(1718,2015),(2080,2375)], [(2520,2813),(2890,3184),(3254,3548)],
]
LINE_COLORS = ["#3B2E9C", "#EE566E", "#08904F"]
BAND_COLORS = ["rgba(59,46,156,0.3)", "rgba(238,86,110,0.25)", "rgba(8,144,79,0.3)"]
GRID = "#EBEBEB"
FONT = "Liberation Sans, Arial, Helvetica, sans-serif"

def fx(px):
    return px / W_PX

def fy(py):
    return 1 - py / H_PX

fig = go.Figure()
layout = dict(width=W_PX, height=H_PX, margin=dict(l=0, r=0, t=0, b=0),
              paper_bgcolor="white", plot_bgcolor="white", showlegend=False,
              font=dict(family=FONT, color="#4D4D4D"))
annotations = []

for ci, country in enumerate(COUNTRIES):
    row, col = divmod(ci, 3)
    top = ROW_TOP[row]
    bottom = top + PANEL_H
    for pi, pathogen in enumerate(PATHOGENS):
        n = ci * 3 + pi + 1
        xa = "x" if n == 1 else f"x{n}"
        ya = "y" if n == 1 else f"y{n}"
        left, right = PANEL_X[ci][pi]
        data = SERIES[ci][pi]
        weeks = [d[0] for d in data]
        obs = [d[1] for d in data]
        if len(data[0]) == 4:
            fit = [d[2] for d in data]
            upper = [d[3] for d in data]
            fig.add_trace(go.Scatter(x=weeks, y=upper, mode="lines", fill="tozeroy",
                                     fillcolor=BAND_COLORS[pi], line=dict(width=0),
                                     xaxis=xa, yaxis=ya, hoverinfo="skip"))
        else:
            fit = obs
        fig.add_trace(go.Scatter(x=weeks, y=fit, mode="lines",
                                 line=dict(color=LINE_COLORS[pi], width=3.5),
                                 xaxis=xa, yaxis=ya))
        fig.add_trace(go.Scatter(x=weeks, y=obs, mode="markers",
                                 marker=dict(color="black", size=9, line=dict(width=0)),
                                 xaxis=xa, yaxis=ya))

        ytop = Y_TOP[ci][pi]
        yticks = Y_TICKS[ci][pi]
        step = yticks[1] - yticks[0]
        yminor = [v + step / 2 for v in yticks if v + step / 2 <= ytop]
        if pi == 0 and SCI_LABELS[ci]:
            ytext = [f"{v:.0e}" for v in yticks]
        else:
            ytext = [str(int(v)) if float(v).is_integer() else str(v) for v in yticks]

        axis_common = dict(showgrid=True, gridcolor=GRID, gridwidth=2.6, zeroline=False,
                           showline=False, ticks="", tickfont=dict(size=17, color="#4D4D4D", family=FONT))
        layout["xaxis" if n == 1 else f"xaxis{n}"] = dict(
            axis_common, domain=[fx(left), fx(right)], anchor=ya, range=[-9, 237],
            tickmode="array", tickvals=X_TICKS, ticktext=[str(v) for v in X_TICKS],
            ticklabelstandoff=12,
            minor=dict(tickvals=X_MINOR, showgrid=True, gridcolor=GRID, gridwidth=1.3))
        layout["yaxis" if n == 1 else f"yaxis{n}"] = dict(
            axis_common, domain=[fy(bottom), fy(top)], anchor=xa,
            range=[-ytop * 0.0476, ytop], tickmode="array", tickvals=yticks, ticktext=ytext,
            ticklabelstandoff=14,
            minor=dict(tickvals=yminor, showgrid=True, gridcolor=GRID, gridwidth=1.3))

        annotations.append(dict(text=pathogen, x=fx((left + right) / 2), y=fy(top - 24),
                                xref="paper", yref="paper", showarrow=False,
                                xanchor="center", yanchor="middle",
                                font=dict(size=19, color="#1A1A1A", family=FONT)))
        if pi == 1:
            annotations.append(dict(text="Week", x=fx((left + right) / 2), y=fy(bottom + 53),
                                    xref="paper", yref="paper", showarrow=False,
                                    xanchor="center", yanchor="middle",
                                    font=dict(size=20, color="black", family=FONT)))
    sl = PANEL_X[ci][0][0]
    annotations.append(dict(text=f"<b>{country}</b>", x=fx(sl), y=fy(top - 81),
                            xref="paper", yref="paper", showarrow=False,
                            xanchor="left", yanchor="middle",
                            font=dict(size=21, color="black", family=FONT)))
    annotations.append(dict(text="Count", x=fx(COUNT_X[col]), y=fy(top + PANEL_H / 2),
                            xref="paper", yref="paper", showarrow=False, textangle=-90,
                            xanchor="center", yanchor="middle",
                            font=dict(size=20, color="black", family=FONT)))

layout["annotations"] = annotations
fig.update_layout(**layout)
fig.write_html("out.html")
